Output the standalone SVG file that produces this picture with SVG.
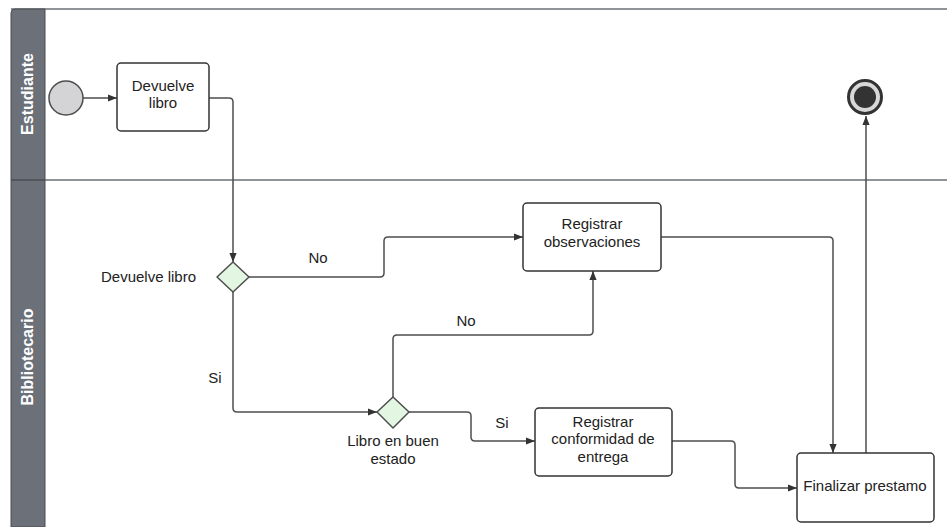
<svg xmlns="http://www.w3.org/2000/svg" width="947" height="527" viewBox="0 0 947 527">
  <style>
    .lane { fill: #ffffff; stroke: #6b6f75; stroke-width: 1.5; }
    .hdr { fill: #6b7079; stroke: #4a4d52; stroke-width: 1; }
    .hdrtxt { font-family: "Liberation Sans", Arial, sans-serif; font-size: 16px; font-weight: bold; fill: #ffffff; text-anchor: middle; }
    .task { fill: #ffffff; stroke: #333333; stroke-width: 1.5; }
    .gw { fill: #e2f6e1; stroke: #4d4d4d; stroke-width: 1.5; }
    .txt { font-family: "Liberation Sans", Arial, sans-serif; font-size: 15px; fill: #222222; text-anchor: middle; }
    .edge { fill: none; stroke: #4d4d4d; stroke-width: 1.5; }
  </style>
  <defs>
    <marker id="arrow" viewBox="0 0 10 10" refX="10" refY="5" markerWidth="9" markerHeight="9" markerUnits="userSpaceOnUse" orient="auto">
      <path d="M0,1 L10,5 L0,9 z" fill="#333333"/>
    </marker>
  </defs>

  <rect width="947" height="527" fill="#ffffff"/>

  <!-- Swimlanes -->
  <g id="lanes">
    <line x1="11" y1="9" x2="947" y2="9" class="lane"/>
    <line x1="11" y1="180" x2="947" y2="180" class="lane"/>
    <path d="M11,527 L11,13 Q11,9 15,9 L45,9 L45,527 Z" class="hdr"/>
    <line x1="11" y1="180" x2="45" y2="180" stroke="#4a4d52" stroke-width="1.5"/>
    <text class="hdrtxt" transform="translate(33,94) rotate(-90)">Estudiante</text>
    <text class="hdrtxt" transform="translate(33,357) rotate(-90)">Bibliotecario</text>
  </g>

  <!-- Connectors -->
  <g id="connectors">
    <path d="M83,98 L117,98" class="edge" marker-end="url(#arrow)"/>
    <path d="M209,98 L229,98 Q233,98 233,102 L233,262" class="edge" marker-end="url(#arrow)"/>
    <path d="M249,277 L380,277 Q384,277 384,273 L384,241 Q384,237 388,237 L523,237" class="edge" marker-end="url(#arrow)"/>
    <path d="M233,292 L233,408 Q233,412 237,412 L377,412" class="edge" marker-end="url(#arrow)"/>
    <path d="M393,398 L393,339 Q393,335 397,335 L589,335 Q593,335 593,331 L593,271" class="edge" marker-end="url(#arrow)"/>
    <path d="M409,412 L467,412 Q471,412 471,416 L471,437 Q471,441 475,441 L535,441" class="edge" marker-end="url(#arrow)"/>
    <path d="M672,441 L731,441 Q735,441 735,445 L735,484 Q735,488 739,488 L797,488" class="edge" marker-end="url(#arrow)"/>
    <path d="M661,237 L829,237 Q833,237 833,241 L833,453" class="edge" marker-end="url(#arrow)"/>
    <path d="M866,453 L866,116" class="edge" marker-end="url(#arrow)"/>
    <text class="txt" x="318" y="263">No</text>
    <text class="txt" x="215" y="383">Si</text>
    <text class="txt" x="466" y="326">No</text>
    <text class="txt" x="502" y="428">Si</text>
  </g>

  <!-- Nodes -->
  <g id="start">
    <circle cx="66" cy="98" r="17" fill="#d4d4d6" stroke="#4d4d4d" stroke-width="1.5"/>
  </g>

  <g id="devuelve-libro-task">
    <rect x="117" y="63" width="92" height="68" rx="4" class="task"/>
    <text class="txt" x="163" y="91">Devuelve</text>
    <text class="txt" x="163" y="108">libro</text>
  </g>

  <g id="gw-devuelve">
    <path d="M233,262 L249,277 L233,292 L217,277 Z" class="gw" stroke-linejoin="round"/>
    <text class="txt" x="196" y="282" style="text-anchor:end">Devuelve libro</text>
  </g>

  <g id="registrar-observaciones">
    <rect x="523" y="203" width="138" height="68" rx="4" class="task"/>
    <text class="txt" x="592" y="229">Registrar</text>
    <text class="txt" x="592" y="247">observaciones</text>
  </g>

  <g id="gw-estado">
    <path d="M393,397 L409,412 L393,428 L377,412 Z" class="gw" stroke-linejoin="round"/>
    <text class="txt" x="393" y="446">Libro en buen</text>
    <text class="txt" x="393" y="464">estado</text>
  </g>

  <g id="registrar-conformidad">
    <rect x="535" y="408" width="137" height="68" rx="4" class="task"/>
    <text class="txt" x="603" y="427">Registrar</text>
    <text class="txt" x="603" y="444">conformidad de</text>
    <text class="txt" x="603" y="462">entrega</text>
  </g>

  <g id="finalizar-prestamo">
    <rect x="797" y="453" width="137" height="69" rx="4" class="task"/>
    <text class="txt" x="865" y="491">Finalizar prestamo</text>
  </g>

  <g id="end">
    <circle cx="865" cy="97" r="16.5" fill="#d8d8d8" stroke="#333333" stroke-width="3"/>
    <circle cx="865" cy="97" r="11" fill="#333333"/>
  </g>
</svg>
